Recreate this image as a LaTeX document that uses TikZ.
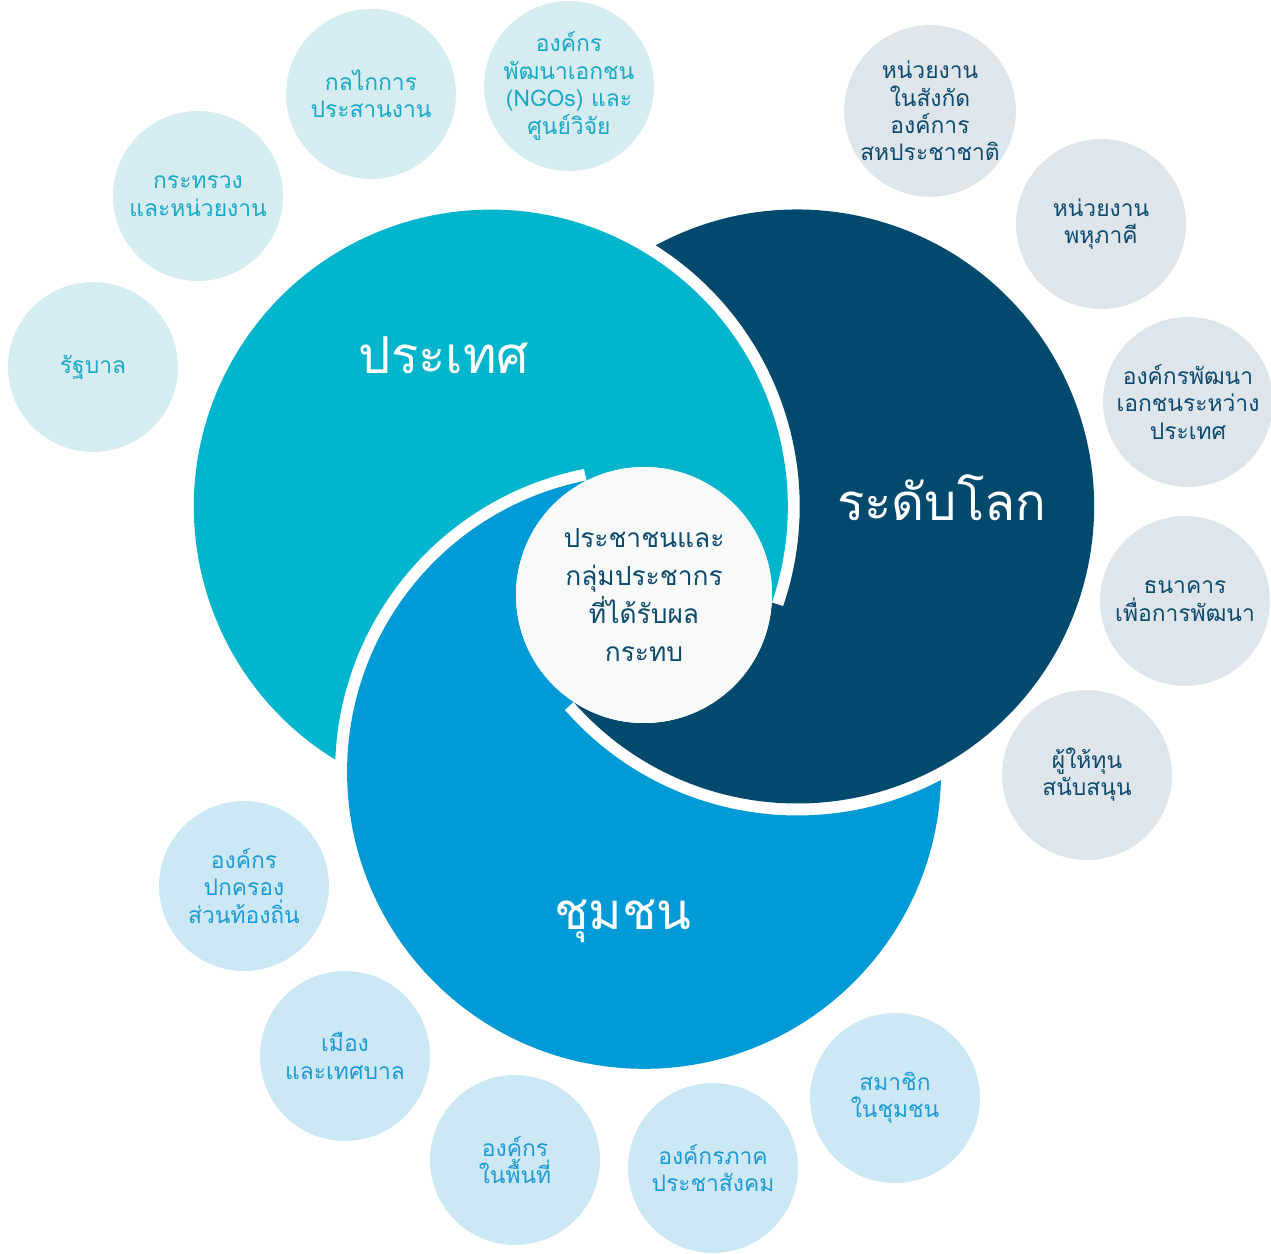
\documentclass[tikz,border=0pt]{standalone}
\usepackage{fontspec}
\newfontfamily\thaifont[Script=Thai]{Loma}
\definecolor{countryteal}{HTML}{00B5CC}
\definecolor{globalnavy}{HTML}{02496E}
\definecolor{communityblue}{HTML}{009AD7}
\definecolor{tealpale}{HTML}{D5ECF1}
\definecolor{tealink}{HTML}{1AA8C6}
\definecolor{navypale}{HTML}{DEE6EC}
\definecolor{navyink}{HTML}{0D4A6E}
\definecolor{bluepale}{HTML}{CDE8F5}
\definecolor{blueink}{HTML}{1E9AD6}
\definecolor{hubwhite}{HTML}{F8F9F9}
\tikzset{
  bubble/.style={circle, minimum size=3.4cm, inner sep=0pt, align=center, font=\thaifont\fontsize{13}{15.6}\selectfont},
  countrybubble/.style={bubble, fill=tealpale, text=tealink},
  globalbubble/.style={bubble, fill=navypale, text=navyink},
  communitybubble/.style={bubble, fill=bluepale, text=blueink},
  biglabel/.style={text=white, font=\thaifont\fontsize{29}{34}\selectfont},
}
\begin{document}
\begin{tikzpicture}[x=0.02cm, y=0.02cm]
	\useasboundingbox (0,0) rectangle (1271,1254);
	\coordinate (hub) at (644,659);
	
	\foreach \turn/\shade in {0/countryteal, -120/globalnavy, 120/communityblue}
	{
		\begin{scope}[shift={(hub)}, rotate=\turn]
			\fill[\shade] (-308.8,-164.6) arc[start angle=238.4, end angle=-18.8, radius=297]
				arc[start angle=-3.3, end angle=116.7, radius=128] -- (-60,126.1)
				arc[start angle=101.2, end angle=177.7, radius=309] -- cycle;
		\end{scope}
	}
	
	\node[circle, fill=hubwhite, minimum size=5.12cm, inner sep=0pt, align=center, text=navyink, font=\thaifont\fontsize{15}{21.5}\selectfont] (people) at (hub) {ประชาชนและ\\กลุ่มประชากร\\ที่ได้รับผล\\กระทบ};
	
	\node[biglabel] (country) at (444,899) {ประเทศ};
	\node[biglabel] (global) at (942,756) {ระดับโลก};
	\node[biglabel] (community) at (623,333) {ชุมชน};
	
	\node[countrybubble] (government) at (93,887) {รัฐบาล};
	\node[countrybubble] (ministry) at (198,1058) {กระทรวง\\และหน่วยงาน};
	\node[countrybubble] (mechanism) at (371,1160) {กลไกการ\\ประสานงาน};
	\node[countrybubble] (ngo) at (569,1168) {องค์กร\\พัฒนาเอกชน\\(NGOs) และ\\ศูนย์วิจัย};
	
	\node[globalbubble] (unagency) at (930,1143) {หน่วยงาน\\ในสังกัด\\องค์การ\\สหประชาชาติ};
	\node[globalbubble] (multilateral) at (1101,1030) {หน่วยงาน\\พหุภาคี};
	\node[globalbubble] (ingo) at (1188,852) {องค์กรพัฒนา\\เอกชนระหว่าง\\ประเทศ};
	\node[globalbubble] (devbank) at (1185,653) {ธนาคาร\\เพื่อการพัฒนา};
	\node[globalbubble] (donor) at (1087,479) {ผู้ให้ทุน\\สนับสนุน};
	
	\node[communitybubble] (localgov) at (244,368) {องค์กร\\ปกครอง\\ส่วนท้องถิ่น};
	\node[communitybubble] (city) at (345,198) {เมือง\\และเทศบาล};
	\node[communitybubble] (localorg) at (515,94) {องค์กร\\ในพื้นที่};
	\node[communitybubble] (civil) at (713,86) {องค์กรภาค\\ประชาสังคม};
	\node[communitybubble] (member) at (895,156) {สมาชิก\\ในชุมชน};
\end{tikzpicture}
\end{document}
